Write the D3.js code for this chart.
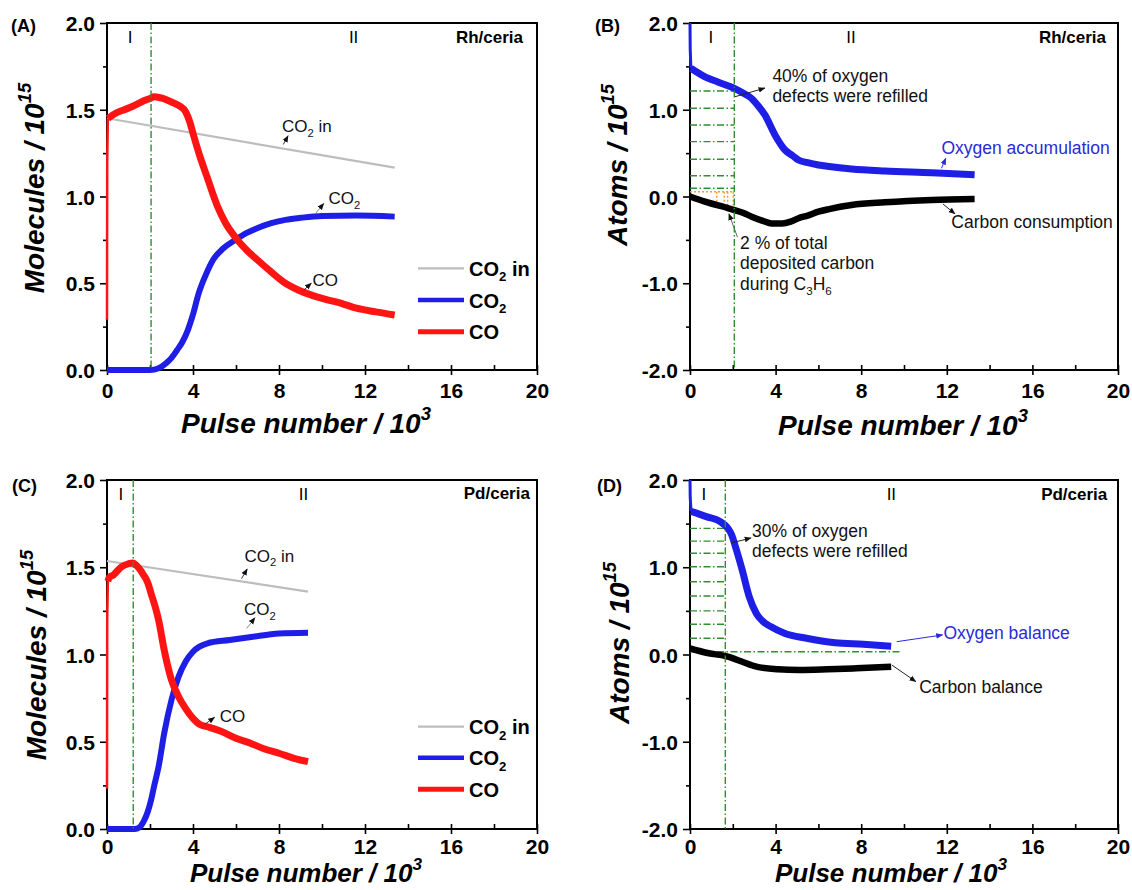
<!DOCTYPE html>
<html><head><meta charset="utf-8">
<script src="https://cdn.jsdelivr.net/npm/d3@7"></script>
<style>
body{margin:0;background:#fff;}
svg{display:block;font-family:"Liberation Sans",Arial,Helvetica,sans-serif;}
</style></head><body>
<svg id="c" width="1132" height="890"></svg>
<script>
// ---------- DATA (x = pulse number / 10^3, y = value / 10^15) ----------
const xMajorTicks = [0, 4, 8, 12, 16, 20];
const xMinorTicks = [2, 6, 10, 14, 18];
const molMajorTicks = [0, 0.5, 1.0, 1.5, 2.0];
const molMinorTicks = [0.25, 0.75, 1.25, 1.75];
const atomMajorTicks = [-2, -1, 0, 1, 2];
const atomMinorTicks = [-1.5, -0.5, 0.5, 1.5];

// Panel A: Rh/ceria, molecules
const aCO2in = [[0, 1.451], [13.38, 1.166]];
const aCOspike = [[0, 0.29], [0.01, 1.2], [0.04, 1.45]];
const aCO = [[0.04,1.45],[0.4,1.48],[0.8,1.50],[1.2,1.52],[1.6,1.545],[2.0,1.565],[2.2,1.575],[2.6,1.565],[3.0,1.545],[3.4,1.52],[3.65,1.49],[3.85,1.43],[4.0,1.364],[4.3,1.24],[4.65,1.114],[5.15,0.94],[5.5,0.85],[6.0,0.76],[6.5,0.69],[7.0,0.634],[7.5,0.58],[8.3,0.50],[9.0,0.455],[10.0,0.413],[11.0,0.38],[11.6,0.356],[12.5,0.335],[13.38,0.317]];
const aCO2 = [[0,0],[2.0,0],[2.4,0.01],[2.76,0.04],[3.0,0.07],[3.26,0.115],[3.5,0.16],[3.76,0.23],[4.0,0.32],[4.26,0.44],[4.6,0.55],[4.93,0.634],[5.4,0.70],[5.97,0.75],[6.5,0.79],[6.98,0.817],[7.6,0.845],[8.3,0.865],[9.0,0.877],[10.0,0.888],[11.6,0.89],[13.38,0.884]];
const aPhase = 2.05;

// Panel B: Rh/ceria, atoms
const bOspike = [[0, 2.0], [0.01, 1.7], [0.04, 1.48]];
const bO = [[0.04,1.478],[0.7,1.38],[1.3,1.32],[2.07,1.247],[2.5,1.19],[2.88,1.13],[3.2,1.04],[3.5,0.94],[3.97,0.71],[4.44,0.536],[4.8,0.47],[5.07,0.42],[5.5,0.39],[6.0,0.363],[6.5,0.345],[7.55,0.317],[9.1,0.294],[11.3,0.274],[13.3,0.25]];
const bC = [[0,0],[0.7,-0.06],[1.8,-0.136],[2.5,-0.19],[2.88,-0.233],[3.4,-0.28],[3.82,-0.31],[4.3,-0.31],[4.7,-0.29],[5.07,-0.25],[5.5,-0.22],[6.0,-0.175],[6.5,-0.145],[7.55,-0.098],[9.1,-0.067],[11.3,-0.04],[13.3,-0.03]];
const bPhase = 2.07;
const bFillLevels = [1.216, 1.017, 0.824, 0.632, 0.429, 0.240, 0.095];
const bCarbonLevel = 0.055;
const bCarbonDrops = [1.25, 1.6, 1.76, 2.02];

// Panel C: Pd/ceria, molecules
const cCO2in = [[0, 1.536], [9.35, 1.36]];
const cCOspike = [[0, 0.23], [0.01, 1.2], [0.04, 1.42]];
const cCO = [[0.04,1.42],[0.1,1.44],[0.3,1.456],[0.65,1.50],[1.0,1.52],[1.2,1.525],[1.45,1.50],[1.7,1.456],[1.9,1.41],[2.05,1.35],[2.25,1.27],[2.4,1.198],[2.66,1.026],[3.0,0.854],[3.33,0.758],[3.66,0.69],[4.0,0.634],[4.3,0.60],[4.67,0.586],[5.3,0.56],[6.0,0.52],[6.7,0.49],[7.3,0.46],[8.0,0.434],[8.7,0.405],[9.35,0.386]];
const cCO2 = [[0,0],[1.3,0],[1.5,0.008],[1.7,0.042],[1.9,0.10],[2.05,0.166],[2.2,0.25],[2.4,0.357],[2.66,0.548],[3.0,0.74],[3.33,0.873],[3.66,0.96],[4.0,1.016],[4.3,1.045],[4.67,1.064],[5.7,1.083],[6.7,1.10],[8.0,1.121],[9.35,1.125]];
const cPhase = 1.22;

// Panel D: Pd/ceria, atoms
const dOspike = [[0, 2.0], [0.01, 1.8], [0.05, 1.64]];
const dO = [[0.05,1.64],[0.76,1.58],[1.43,1.52],[1.77,1.446],[1.95,1.37],[2.1,1.255],[2.44,0.968],[2.77,0.66],[3.1,0.47],[3.4,0.38],[3.77,0.32],[4.44,0.24],[5.44,0.186],[6.78,0.135],[8.1,0.117],[9.4,0.095]];
const dC = [[0,0.07],[0.76,0.02],[1.77,-0.025],[2.44,-0.083],[3.1,-0.14],[4.1,-0.17],[5.1,-0.178],[6.44,-0.17],[7.77,-0.158],[9.4,-0.14]];
const dPhase = 1.65;
const dFillLevels = [1.446, 1.30, 1.16, 1.006, 0.834, 0.67, 0.50, 0.346, 0.186];
const dBalanceLevel = 0.032;
const dBalanceEnd = 9.8;

// ---------- DRAWING ----------
const svg = d3.select("#c");
const RED = "#ff1414", BLUE = "#1e1ee6", GRAY = "#bdbdbd", GREEN = "#2f8f2f", ORANGE = "#ff9a2e", ANNBLUE = "#2a2ad8";
const defs = svg.append("defs");
function marker(id, color) {
  defs.append("marker").attr("id", id).attr("viewBox", "0 0 10 10").attr("refX", 9).attr("refY", 5)
    .attr("markerWidth", 7).attr("markerHeight", 7).attr("orient", "auto-start-reverse")
    .attr("markerUnits", "userSpaceOnUse")
    .append("path").attr("d", "M0,1 L10,5 L0,9 Z").attr("fill", color);
}
marker("ah", "#111"); marker("ahb", ANNBLUE);

function rich(t, parts, size) {
  let shift = 0;
  parts.forEach(([s, ty]) => {
    const ts = t.append("tspan").text(s);
    const target = ty === "sub" ? 0.28 * size : ty === "sup" ? -0.45 * size : 0;
    if (ty) ts.attr("font-size", size * 0.66);
    if (target - shift !== 0) ts.attr("dy", target - shift);
    shift = target;
  });
  return t;
}

function panel(cfg) {
  const g = svg.append("g");
  const x = d3.scaleLinear().domain([0, 20]).range([cfg.left, cfg.right]);
  const y = d3.scaleLinear().domain(cfg.yDomain).range([cfg.bottom, cfg.top]);
  const line = d3.line().x(d => x(d[0])).y(d => y(d[1]));

  const xa = g.append("g").attr("transform", `translate(0,${cfg.bottom})`)
    .call(d3.axisBottom(x).tickValues(xMajorTicks).tickSize(5).tickFormat(d3.format("d")));
  xa.selectAll("text").attr("y", cfg.xLblOff).attr("dy", 0).attr("font-size", 21).attr("font-weight", "bold")
    .attr("font-family", "Liberation Sans, Arial, sans-serif").attr("fill", "#000");
  const xi = g.append("g").attr("transform", `translate(0,${cfg.bottom})`)
    .call(d3.axisTop(x).tickValues(xMajorTicks.concat(xMinorTicks)).tickSize(5).tickFormat(""));
  const ya = g.append("g").attr("transform", `translate(${cfg.left},0)`)
    .call(d3.axisLeft(y).tickValues(cfg.yMajor).tickSize(7).tickPadding(5).tickFormat(v => v.toFixed(1)));
  ya.selectAll("text").attr("font-size", 21).attr("font-weight", "bold").attr("dy", "0.36em")
    .attr("font-family", "Liberation Sans, Arial, sans-serif").attr("fill", "#000");
  const ym = g.append("g").attr("transform", `translate(${cfg.left},0)`)
    .call(d3.axisLeft(y).tickValues(cfg.yMinor).tickSize(4).tickFormat(""));
  [xa, xi, ya, ym].forEach(a => { a.select(".domain").remove(); a.selectAll("line").attr("stroke", "#000").attr("stroke-width", 1.6); });

  g.append("rect").attr("x", cfg.left).attr("y", cfg.top).attr("width", cfg.right - cfg.left)
    .attr("height", cfg.bottom - cfg.top).attr("fill", "none").attr("stroke", "#000").attr("stroke-width", 2);

  const plot = g.append("g");
  cfg.draw(plot, x, y, line);

  plot.append("line").attr("x1", x(cfg.phase)).attr("x2", x(cfg.phase)).attr("y1", cfg.top).attr("y2", cfg.bottom)
    .attr("stroke", GREEN).attr("stroke-width", 1.4).attr("stroke-dasharray", "7,2.5,1.5,2.5");

  g.append("text").attr("x", x(cfg.lblI[0])).attr("y", y(cfg.lblI[1])).attr("text-anchor", "middle").attr("font-size", 17).text("I");
  g.append("text").attr("x", x(cfg.lblII[0])).attr("y", y(cfg.lblII[1])).attr("text-anchor", "middle").attr("font-size", 17).text("II");
  g.append("text").attr("x", x(cfg.cat[0])).attr("y", y(cfg.cat[1])).attr("text-anchor", "end")
    .attr("font-size", 17).attr("font-weight", "bold").text(cfg.catText);

  g.append("text").attr("x", cfg.letterPos[0]).attr("y", cfg.letterPos[1]).attr("font-size", 18).attr("font-weight", "bold").text(cfg.letter);

  const xt = g.append("text").attr("x", cfg.xTitle[0]).attr("y", cfg.xTitle[1]).attr("text-anchor", "middle")
    .attr("font-size", cfg.xTitleSize).attr("font-weight", "bold").attr("font-style", "italic");
  rich(xt, [["Pulse number / 10"], ["3", "sup"]], cfg.xTitleSize);
  const yt = g.append("text").attr("transform", `translate(${cfg.yTitle[0]},${cfg.yTitle[1]}) rotate(-90)`)
    .attr("text-anchor", "middle").attr("font-size", 28).attr("font-weight", "bold").attr("font-style", "italic");
  rich(yt, [[cfg.yName + " / 10"], ["15", "sup"]], 28);
  return {g, x, y};
}

function arrow(g, x, y, p1, p2, color, mk, w) {
  g.append("line").attr("x1", x(p1[0])).attr("y1", y(p1[1])).attr("x2", x(p2[0])).attr("y2", y(p2[1]))
    .attr("stroke", color).attr("stroke-width", w || 1).attr("marker-end", `url(#${mk})`);
}
function note(g, x, y, pos, lines, color, size) {
  const fs = size || 17;
  const t = g.append("text").attr("x", x(pos[0])).attr("y", y(pos[1])).attr("font-size", fs).attr("fill", color || "#111");
  lines.forEach((parts, i) => {
    const sub = t.append("tspan").attr("x", x(pos[0]));
    if (i > 0) sub.attr("y", y(pos[1]) + i * 20.5);
    rich(sub, parts, fs);
  });
}

function legend(g, x0, ys) {
  const items = [[GRAY, 2.2, [["CO"], ["2", "sub"], [" in"]]], [BLUE, 4.5, [["CO"], ["2", "sub"]]], [RED, 5, [["CO"]]]];
  items.forEach((it, i) => {
    g.append("line").attr("x1", x0).attr("x2", x0 + 46).attr("y1", ys[i]).attr("y2", ys[i]).attr("stroke", it[0]).attr("stroke-width", it[1]);
    const t = g.append("text").attr("x", x0 + 51).attr("y", ys[i] + 7.5).attr("font-size", 20).attr("font-weight", "bold");
    rich(t, it[2], 20);
  });
}

// Panel A
panel({
  left: 107, right: 537, top: 23, bottom: 370, yDomain: [0, 2], yMajor: molMajorTicks, yMinor: molMinorTicks,
  phase: aPhase, lblI: [1.07, 1.883], lblII: [11.47, 1.883], cat: [19.35, 1.886], catText: "Rh/ceria",
  letter: "(A)", letterPos: [11, 32], xTitle: [306, 433], xTitleSize: 28, xLblOff: 28, yTitle: [44, 188], yName: "Molecules",
  draw(p, x, y, line) {
    p.append("path").datum(aCO2in).attr("d", line).attr("fill", "none").attr("stroke", GRAY).attr("stroke-width", 2.2);
    p.append("path").datum(aCO2).attr("d", line.curve(d3.curveMonotoneX)).attr("fill", "none").attr("stroke", BLUE).attr("stroke-width", 6).attr("stroke-linejoin", "round");
    p.append("path").datum(aCOspike).attr("d", line.curve(d3.curveLinear)).attr("fill", "none").attr("stroke", RED).attr("stroke-width", 2.5);
    p.append("path").datum(aCO).attr("d", line.curve(d3.curveMonotoneX)).attr("fill", "none").attr("stroke", RED).attr("stroke-width", 7).attr("stroke-linejoin", "round");
    line.curve(d3.curveLinear);
    note(p, x, y, [8.14, 1.373], [[["CO"], ["2", "sub"], [" in"]]]);
    arrow(p, x, y, [8.2, 1.30], [8.42, 1.35], "#333", "ah");
    note(p, x, y, [10.3, 0.957], [[["CO"], ["2", "sub"]]]);
    arrow(p, x, y, [9.72, 0.905], [10.08, 0.96], "#888", "ah");
    note(p, x, y, [9.56, 0.484], [[["CO"]]]);
    arrow(p, x, y, [9.15, 0.46], [9.5, 0.5], "#333", "ah");
    legend(p, 418, [268.3, 300, 331.7]);
  }
});

// Panel B
panel({
  left: 690, right: 1118, top: 23, bottom: 370, yDomain: [-2, 2], yMajor: atomMajorTicks, yMinor: atomMinorTicks,
  phase: bPhase, lblI: [0.98, 1.766], lblII: [7.52, 1.766], cat: [19.44, 1.77], catText: "Rh/ceria",
  letter: "(B)", letterPos: [595, 32], xTitle: [903, 435], xTitleSize: 28, xLblOff: 28, yTitle: [627, 165], yName: "Atoms",
  draw(p, x, y, line) {
    bFillLevels.forEach(v => p.append("line").attr("x1", x(0)).attr("x2", x(bPhase)).attr("y1", y(v)).attr("y2", y(v))
      .attr("stroke", GREEN).attr("stroke-width", 1.4).attr("stroke-dasharray", "7,2.5,1.5,2.5"));
    p.append("line").attr("x1", x(0)).attr("x2", x(bPhase)).attr("y1", y(bCarbonLevel)).attr("y2", y(bCarbonLevel))
      .attr("stroke", ORANGE).attr("stroke-width", 1.4).attr("stroke-dasharray", "2,2");
    const cInterp = v => { for (let i = 1; i < bC.length; i++) { if (bC[i][0] >= v) { const a = bC[i-1], b = bC[i]; return a[1] + (b[1]-a[1])*(v-a[0])/(b[0]-a[0]); } } return 0; };
    bCarbonDrops.forEach(v => p.append("line").attr("x1", x(v)).attr("x2", x(v)).attr("y1", y(bCarbonLevel)).attr("y2", y(cInterp(v)) - 3)
      .attr("stroke", ORANGE).attr("stroke-width", 1.4).attr("stroke-dasharray", "2,2"));
    p.append("path").datum(bOspike).attr("d", line).attr("fill", "none").attr("stroke", BLUE).attr("stroke-width", 3);
    p.append("path").datum(bO).attr("d", line.curve(d3.curveMonotoneX)).attr("fill", "none").attr("stroke", BLUE).attr("stroke-width", 7).attr("stroke-linejoin", "round");
    p.append("path").datum(bC).attr("d", line.curve(d3.curveMonotoneX)).attr("fill", "none").attr("stroke", "#000").attr("stroke-width", 6.5).attr("stroke-linejoin", "round");
    line.curve(d3.curveLinear);
    note(p, x, y, [3.85, 1.323], [[["40% of oxygen"]], [["defects were refilled"]]], "#111", 17.5);
    arrow(p, x, y, [2.1, 1.15], [3.5, 1.25], "#222", "ah");
    note(p, x, y, [11.75, 0.49], [[["Oxygen accumulation"]]], ANNBLUE, 17.5);
    arrow(p, x, y, [11.75, 0.325], [11.95, 0.44], ANNBLUE, "ahb");
    note(p, x, y, [12.21, -0.36], [[["Carbon consumption"]]], "#111", 17.5);
    arrow(p, x, y, [11.82, -0.086], [12.38, -0.2], "#222", "ah");
    note(p, x, y, [2.34, -0.605], [[["2 % of total"]], [["deposited carbon"]], [["during C"], ["3", "sub"], ["H"], ["6", "sub"]]], "#111", 17.5);
    arrow(p, x, y, [2.22, -0.47], [1.82, -0.2], "#666", "ah");
  }
});

// Panel C
panel({
  left: 107, right: 537, top: 480, bottom: 829, yDomain: [0, 2], yMajor: molMajorTicks, yMinor: molMinorTicks,
  phase: cPhase, lblI: [0.64, 1.885], lblII: [9.14, 1.885], cat: [19.67, 1.889], catText: "Pd/ceria",
  letter: "(C)", letterPos: [12, 492], xTitle: [306, 882], xTitleSize: 26, xLblOff: 25, yTitle: [46, 655], yName: "Molecules",
  draw(p, x, y, line) {
    p.append("path").datum(cCO2in).attr("d", line).attr("fill", "none").attr("stroke", GRAY).attr("stroke-width", 2.2);
    p.append("path").datum(cCO2).attr("d", line.curve(d3.curveMonotoneX)).attr("fill", "none").attr("stroke", BLUE).attr("stroke-width", 6).attr("stroke-linejoin", "round");
    p.append("path").datum(cCOspike).attr("d", line.curve(d3.curveLinear)).attr("fill", "none").attr("stroke", RED).attr("stroke-width", 2.5);
    p.append("path").datum(cCO).attr("d", line.curve(d3.curveMonotoneX)).attr("fill", "none").attr("stroke", RED).attr("stroke-width", 7).attr("stroke-linejoin", "round");
    line.curve(d3.curveLinear);
    note(p, x, y, [6.4, 1.532], [[["CO"], ["2", "sub"], [" in"]]]);
    arrow(p, x, y, [6.26, 1.435], [6.52, 1.49], "#333", "ah");
    note(p, x, y, [6.37, 1.226], [[["CO"], ["2", "sub"]]]);
    arrow(p, x, y, [6.5, 1.15], [6.88, 1.21], "#888", "ah");
    note(p, x, y, [5.24, 0.615], [[["CO"]]]);
    arrow(p, x, y, [4.55, 0.6], [5.0, 0.64], "#333", "ah");
    legend(p, 418, [726.7, 757.7, 789.3]);
  }
});

// Panel D
panel({
  left: 690, right: 1118, top: 480, bottom: 829, yDomain: [-2, 2], yMajor: atomMajorTicks, yMinor: atomMinorTicks,
  phase: dPhase, lblI: [0.65, 1.77], lblII: [9.41, 1.77], cat: [19.5, 1.77], catText: "Pd/ceria",
  letter: "(D)", letterPos: [597, 492], xTitle: [891, 882], xTitleSize: 26, xLblOff: 25, yTitle: [629, 643], yName: "Atoms",
  draw(p, x, y, line) {
    dFillLevels.forEach(v => p.append("line").attr("x1", x(0)).attr("x2", x(dPhase)).attr("y1", y(v)).attr("y2", y(v))
      .attr("stroke", GREEN).attr("stroke-width", 1.4).attr("stroke-dasharray", "7,2.5,1.5,2.5"));
    p.append("line").attr("x1", x(0)).attr("x2", x(dBalanceEnd)).attr("y1", y(dBalanceLevel)).attr("y2", y(dBalanceLevel))
      .attr("stroke", GREEN).attr("stroke-width", 1.4).attr("stroke-dasharray", "7,2.5,1.5,2.5");
    p.append("path").datum(dOspike).attr("d", line).attr("fill", "none").attr("stroke", BLUE).attr("stroke-width", 3);
    p.append("path").datum(dO).attr("d", line.curve(d3.curveMonotoneX)).attr("fill", "none").attr("stroke", BLUE).attr("stroke-width", 7).attr("stroke-linejoin", "round");
    p.append("path").datum(dC).attr("d", line.curve(d3.curveMonotoneX)).attr("fill", "none").attr("stroke", "#000").attr("stroke-width", 6.5).attr("stroke-linejoin", "round");
    line.curve(d3.curveLinear);
    note(p, x, y, [2.9, 1.35], [[["30% of oxygen"]], [["defects were refilled"]]], "#111", 17.5);
    arrow(p, x, y, [1.92, 1.278], [2.85, 1.335], "#222", "ah");
    note(p, x, y, [11.84, 0.174], [[["Oxygen balance"]]], ANNBLUE, 17.5);
    arrow(p, x, y, [9.66, 0.147], [11.8, 0.224], ANNBLUE, "ahb");
    note(p, x, y, [10.71, -0.438], [[["Carbon balance"]]], "#111", 17.5);
    arrow(p, x, y, [9.43, -0.12], [10.55, -0.31], "#222", "ah");
  }
});
</script>
</body></html>
